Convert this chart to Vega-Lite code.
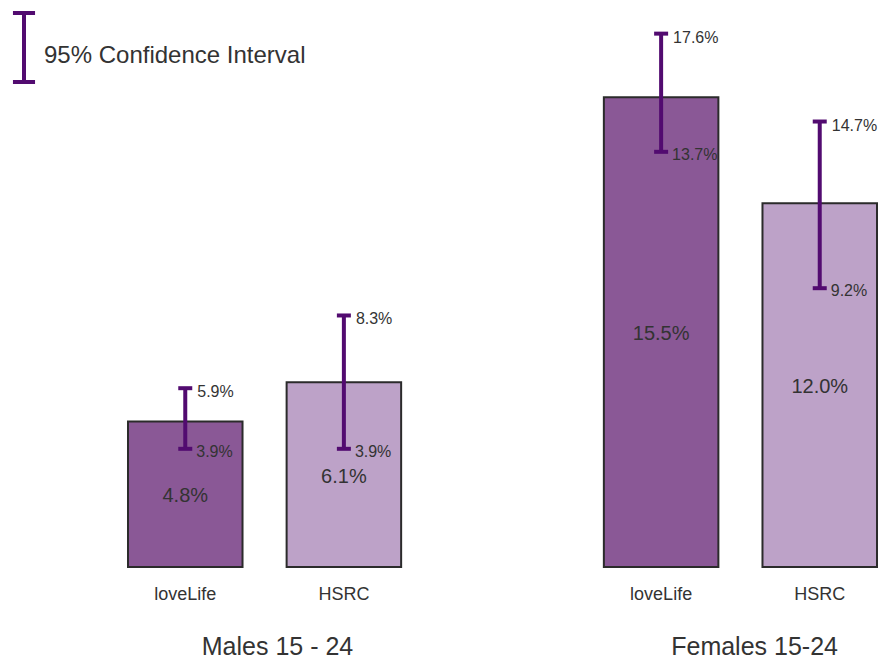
{
  "$schema": "https://vega.github.io/schema/vega-lite/v6.json",
  "width": 749,
  "height": 567,
  "autosize": {"type": "none"},
  "padding": {"left": 128, "top": 0, "right": 4, "bottom": 92},
  "background": "white",
  "config": {
    "view": {"stroke": null},
    "font": "Liberation Sans",
    "text": {"color": "#333333", "font": "Liberation Sans"}
  },
  "data": {
    "values": [
      {"group": "Males 15 - 24", "source": "loveLife", "cat": "Males|loveLife", "value": 0.048, "lower": 0.039, "upper": 0.059},
      {"group": "Males 15 - 24", "source": "HSRC", "cat": "Males|HSRC", "value": 0.061, "lower": 0.039, "upper": 0.083},
      {"group": "Females 15-24", "source": "loveLife", "cat": "Females|loveLife", "value": 0.155, "lower": 0.137, "upper": 0.176},
      {"group": "Females 15-24", "source": "HSRC", "cat": "Females|HSRC", "value": 0.120, "lower": 0.092, "upper": 0.147}
    ]
  },
  "resolve": {"scale": {"x": "independent", "y": "independent"}},
  "layer": [
    {
      "layer": [
        {
          "mark": {"type": "bar", "stroke": "#2b2b2b", "strokeWidth": 2},
          "encoding": {
            "x": {
              "field": "cat", "type": "nominal",
              "scale": {"type": "band", "domain": ["Males|loveLife", "Males|HSRC", "gap", "Females|loveLife", "Females|HSRC"], "paddingInner": 0.278, "paddingOuter": 0},
              "axis": {"title": null, "domain": false, "ticks": false, "tickSize": 0, "grid": false, "labelFontSize": 18, "labelPadding": 18, "labelColor": "#333333", "labelAngle": 0, "labelFont": "Liberation Sans",
                "labelExpr": "indexof(datum.value,'|')>0 ? split(datum.value,'|')[1] : ''"}
            },
            "y": {"field": "value", "type": "quantitative", "scale": {"domain": [0, 0.1871], "nice": false, "zero": true}, "axis": null},
            "fill": {"field": "source", "type": "nominal", "scale": {"domain": ["loveLife", "HSRC"], "range": ["#8a5896", "#bda2c8"]}, "legend": null}
          }
        },
        {
          "mark": {"type": "rule", "strokeWidth": 4},
          "encoding": {
            "x": {"field": "cat", "type": "nominal"},
            "y": {"field": "lower", "type": "quantitative"},
            "y2": {"field": "upper"},
            "color": {
              "datum": "95% Confidence Interval", "type": "nominal",
              "scale": {"range": ["#520b70"]},
              "legend": {
                "title": null, "orient": "none", "legendX": -140.5, "legendY": 11, "padding": 0,
                "symbolType": "M0,-1L0,1M-0.32,-1L0.32,-1M-0.32,1L0.32,1",
                "symbolSize": 4761, "symbolStrokeWidth": 4, "symbolFillColor": "transparent",
                "labelFontSize": 24, "labelOffset": -16.5, "labelColor": "#333333", "labelLimit": 400, "labelFont": "Liberation Sans",
                "encode": {"labels": {"update": {"dy": {"value": 8}}}}
              }
            }
          }
        },
        {
          "mark": {"type": "tick", "orient": "horizontal", "size": 14, "thickness": 4, "color": "#520b70", "opacity": 1},
          "encoding": {
            "x": {"field": "cat", "type": "nominal"},
            "y": {"field": "upper", "type": "quantitative"}
          }
        },
        {
          "mark": {"type": "tick", "orient": "horizontal", "size": 14, "thickness": 4, "color": "#520b70", "opacity": 1},
          "encoding": {
            "x": {"field": "cat", "type": "nominal"},
            "y": {"field": "lower", "type": "quantitative"}
          }
        },
        {
          "mark": {"type": "text", "align": "left", "baseline": "middle", "dx": 12, "dy": 4, "fontSize": 16, "color": "#333333"},
          "encoding": {
            "x": {"field": "cat", "type": "nominal"},
            "y": {"field": "upper", "type": "quantitative"},
            "text": {"field": "upper", "type": "quantitative", "format": ".1%"}
          }
        },
        {
          "mark": {"type": "text", "align": "left", "baseline": "middle", "dx": 11, "dy": 3, "fontSize": 16, "color": "#333333"},
          "encoding": {
            "x": {"field": "cat", "type": "nominal"},
            "y": {"field": "lower", "type": "quantitative"},
            "text": {"field": "lower", "type": "quantitative", "format": ".1%"}
          }
        }
      ]
    },
    {
      "mark": {"type": "text", "baseline": "middle", "align": "center", "fontSize": 20, "dy": 2, "color": "#333333"},
      "encoding": {
        "x": {"field": "cat", "type": "nominal",
          "scale": {"type": "band", "domain": ["Males|loveLife", "Males|HSRC", "gap", "Females|loveLife", "Females|HSRC"], "paddingInner": 0.278, "paddingOuter": 0},
          "axis": null},
        "y": {"field": "value", "type": "quantitative", "scale": {"domain": [0, 0.3742], "nice": false, "zero": true}, "axis": null},
        "text": {"field": "value", "type": "quantitative", "format": ".1%"}
      }
    },
    {
      "mark": {"type": "text", "text": "", "opacity": 0},
      "encoding": {
        "x": {"field": "group", "type": "nominal",
          "scale": {"type": "point", "domain": ["Males 15 - 24", "Females 15-24"], "padding": 0.285, "align": 0.548},
          "axis": {"orient": "bottom", "title": null, "domain": false, "ticks": false, "tickSize": 0, "grid": false, "labelFontSize": 25, "labelPadding": 67, "labelColor": "#333333", "labelAngle": 0, "labelFont": "Liberation Sans"}
        }
      }
    }
  ]
}
